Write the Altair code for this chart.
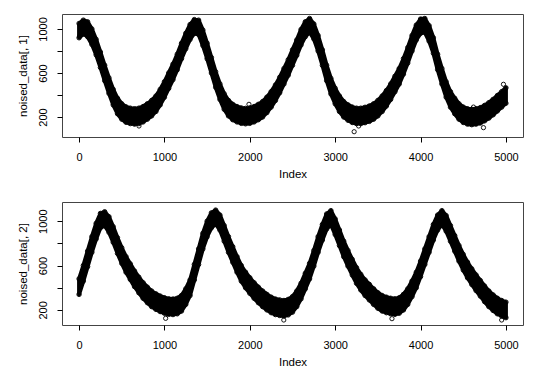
import altair as alt
import pandas as pd

# Sample positions along the series (every 50th observation)
index = list(range(0, 5001, 50))

# Panel 1: upper / lower envelope of the noisy band
s1_hi = [1050, 1080, 1065, 1000, 905, 790, 670, 555, 450, 370,
         320, 292, 280, 275, 280, 295, 320, 350, 390, 450,
         520, 600, 680, 770, 870, 960, 1040, 1085, 1080, 990,
         870, 740, 610, 500, 410, 350, 315, 295, 282, 278,
         282, 295, 315, 340, 380, 430, 490, 560, 640, 720,
         810, 900, 995, 1065, 1095, 1045, 940, 810, 670, 550,
         460, 390, 340, 310, 290, 280, 280, 288, 300, 320,
         350, 390, 440, 500, 570, 640, 730, 830, 940, 1035,
         1090, 1095, 1030, 920, 770, 640, 520, 430, 370, 320,
         290, 275, 270, 275, 285, 305, 330, 360, 395, 430,
         465]
s1_lo = [920, 955, 930, 860, 765, 650, 530, 415, 310, 230,
         180, 152, 140, 135, 140, 155, 180, 210, 250, 310,
         380, 460, 540, 630, 730, 820, 905, 960, 950, 850,
         730, 600, 470, 360, 270, 210, 175, 155, 142, 138,
         142, 155, 175, 200, 240, 290, 350, 420, 500, 580,
         670, 760, 855, 930, 970, 910, 800, 670, 530, 410,
         320, 250, 200, 170, 150, 140, 140, 148, 160, 180,
         210, 250, 300, 360, 430, 500, 590, 690, 800, 900,
         960, 970, 890, 780, 630, 500, 380, 290, 230, 180,
         150, 135, 130, 135, 145, 165, 190, 220, 255, 290,
         325]
s1_out_idx = [8, 1990, 3222, 3275, 4620, 4737, 4971, 702]
s1_out_val = [936, 315, 66, 118, 290, 103, 497, 118]

# Panel 2
s2_hi = [480, 600, 730, 860, 980, 1070, 1085, 1040, 950, 850,
         760, 680, 615, 550, 495, 445, 405, 370, 345, 325,
         310, 300, 298, 305, 330, 390, 470, 610, 750, 890,
         1000, 1075, 1100, 1055, 960, 860, 770, 680, 600, 540,
         490, 445, 405, 370, 340, 315, 298, 290, 285, 295,
         320, 370, 440, 530, 620, 735, 860, 970, 1065, 1095,
         1020, 920, 820, 735, 655, 580, 520, 470, 430, 390,
         355, 330, 315, 305, 300, 310, 340, 390, 460, 540,
         640, 750, 860, 970, 1055, 1095, 1050, 960, 870, 780,
         700, 630, 570, 515, 465, 415, 370, 335, 305, 285,
         270]
s2_lo = [340, 460, 590, 720, 840, 940, 960, 900, 810, 710,
         620, 540, 475, 410, 355, 305, 265, 230, 205, 185,
         170, 160, 158, 165, 190, 250, 330, 470, 610, 750,
         860, 940, 975, 920, 820, 720, 630, 540, 460, 400,
         350, 305, 265, 230, 200, 175, 158, 150, 145, 155,
         180, 230, 300, 390, 480, 595, 720, 830, 930, 970,
         880, 780, 680, 595, 515, 440, 380, 330, 290, 250,
         215, 190, 175, 165, 160, 170, 200, 250, 320, 400,
         500, 610, 720, 830, 920, 970, 910, 820, 730, 640,
         560, 490, 430, 375, 325, 275, 230, 195, 165, 145,
         130]
s2_out_idx = [2398, 1014, 3665, 4950, 2183]
s2_out_val = [109, 124, 121, 109, 345]

x_ticks = [0, 1000, 2000, 3000, 4000, 5000]
y_ticks = [200, 400, 600, 800, 1000]
x_domain = [-199.96, 5199.96]

FONT = "Liberation Sans"


def panel(hi, lo, out_idx, out_val, ydom, ytitle):
    df = pd.DataFrame({"Index": index, "hi": hi, "lo": lo})
    dfo = pd.DataFrame({"Index": out_idx, "val": out_val})
    xs = alt.Scale(domain=x_domain, nice=False, zero=False)
    ys = alt.Scale(domain=ydom, nice=False, zero=False)
    xax = alt.Axis(values=x_ticks, title="Index", labelPadding=9,
                   titlePadding=6, format="d")
    yax = alt.Axis(values=y_ticks, title=ytitle, labelAngle=270,
                   labelAlign="center", labelBaseline="bottom",
                   labelPadding=9, titlePadding=9, format="d",
                   labelExpr="datum.value % 400 == 200 ? datum.label : ''")
    X = alt.X("Index:Q", scale=xs, axis=xax)
    area = alt.Chart(df).mark_area(
        color="black", opacity=1, stroke="black", strokeWidth=4,
        strokeJoin="round", strokeOpacity=1
    ).encode(x=X, y=alt.Y("lo:Q", scale=ys, axis=yax), y2="hi:Q")
    edges = alt.Chart(df).transform_fold(["hi", "lo"], as_=["edge", "val"]).mark_point(
        shape="circle", filled=False, color="black", size=20, strokeWidth=0.9, opacity=1
    ).encode(x=X, y=alt.Y("val:Q", scale=ys, axis=yax))
    outl = alt.Chart(dfo).mark_point(
        shape="circle", filled=False, color="black", size=18, strokeWidth=0.9, opacity=1
    ).encode(x=X, y=alt.Y("val:Q", scale=ys, axis=yax))
    return alt.layer(area, edges, outl).properties(width=461, height=123)


p1 = panel(s1_hi, s1_lo, s1_out_idx, s1_out_val, [18, 1136], "noised_data[, 1]")
p2 = panel(s2_hi, s2_lo, s2_out_idx, s2_out_val, [64, 1173], "noised_data[, 2]")

chart = alt.vconcat(p1, p2, spacing=65, bounds="flush").properties(
    padding={"left": 8, "top": 5, "right": 5, "bottom": 5},
    background="white",
).configure_axis(
    labelFont=FONT, titleFont=FONT, labelFontSize=11, titleFontSize=11.5,
    titleFontWeight="normal", labelColor="black", titleColor="black",
    tickColor="black", tickSize=5, grid=False, domain=False,
).configure_view(stroke="#444", strokeWidth=1)

chart.save("out.html", embed_options={"renderer": "svg", "actions": False})
